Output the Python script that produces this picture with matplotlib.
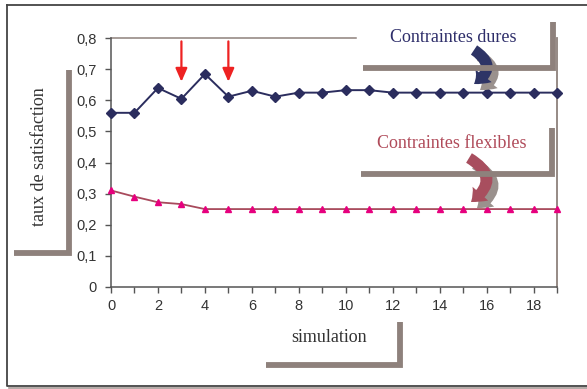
import matplotlib
matplotlib.use("Agg")
import matplotlib.pyplot as plt
from matplotlib.lines import Line2D
from matplotlib.patches import FancyArrowPatch

# Satisfaction rates per simulation step
simulation = list(range(20))
dures = [0.56, 0.56, 0.64, 0.605, 0.685, 0.612, 0.631, 0.612, 0.625, 0.625,
         0.633, 0.633, 0.625, 0.625, 0.625, 0.625, 0.625, 0.625, 0.625, 0.625]
flexibles = [0.31, 0.29, 0.272, 0.266, 0.25, 0.25, 0.25, 0.25, 0.25, 0.25,
             0.25, 0.25, 0.25, 0.25, 0.25, 0.25, 0.25, 0.25, 0.25, 0.25]
x_ticks = list(range(0, 20, 2))
y_ticks = [0, 0.1, 0.2, 0.3, 0.4, 0.5, 0.6, 0.7, 0.8]
y_ticklabels = ["0", "0,1", "0,2", "0,3", "0,4", "0,5", "0,6", "0,7", "0,8"]
marked_steps = [3, 5]

W, H = 587, 389
fig = plt.figure(figsize=(W / 100, H / 100), dpi=100)
fig.patch.set_facecolor("white")

def px(x, y):
    """Pixel position (from top-left) to figure fraction."""
    return x / W, 1 - y / H

SERIF = "Liberation Serif"
SANS = "Liberation Sans"
BAR = "#8e817c"

# Outer frame with a faint shadow
for (xs, ys, c, lw) in [
    ([7, 7, 587], [5, 386, 386], "#444444", 1.3),
    ([9, 587], [388, 388], "#a89c98", 1.2),
    ([7, 587], [5, 5], "#444444", 1.3),
]:
    fx = [px(a, 0)[0] for a in xs]
    fy = [px(0, b)[1] for b in ys]
    fig.add_artist(Line2D(fx, fy, color=c, lw=lw, transform=fig.transFigure))

ax = fig.add_axes([111 / W, 1 - 286.7 / H, (557 - 111) / W, (286.7 - 38.3) / H])
ax.set_xlim(0, 19)
ax.set_ylim(0, 0.8)

ax.plot(simulation, dures, color="#2b2d5e", lw=1.4, marker="D", ms=5.5,
        mfc="#2b2d5e", mec="#2b2d5e", clip_on=False, zorder=4)
ax.plot(simulation, flexibles, color="#a84a5c", lw=1.3, marker="^", ms=4.5,
        mfc="#e6007e", mec="#e6007e", clip_on=False, zorder=4)

ax.set_xticks(simulation)
ax.set_xticklabels([str(v) if v in x_ticks else "" for v in simulation])
ax.set_yticks(y_ticks)
ax.set_yticklabels(y_ticklabels)
ax.tick_params(axis="both", direction="out", length=4, width=1, color="#555555",
               labelcolor="#333333", labelsize=10.5)
ax.tick_params(axis="y", pad=6)
ax.tick_params(axis="x", pad=5)
for lab in ax.get_xticklabels() + ax.get_yticklabels():
    lab.set_fontfamily(SANS)

for side in ["top", "right"]:
    ax.spines[side].set_visible(False)
for side in ["left", "bottom"]:
    ax.spines[side].set_color("#555555")
    ax.spines[side].set_linewidth(1.1)

# Partial top rule and right rule
ax.plot([0, 10.45], [0.8, 0.8], color=BAR, lw=1.1, clip_on=False, zorder=2)
ax.plot([19, 19], [0, 0.8], color=BAR, lw=1.3, clip_on=False, zorder=2)

# Red arrows marking the steps of interest
for s in marked_steps:
    ax.annotate("", xy=(s, 0.66), xytext=(s, 0.79),
                arrowprops=dict(arrowstyle="-|>,head_length=0.8,head_width=0.35",
                                color="#ee2222", lw=1.6, shrinkA=0, shrinkB=0))

# Decorative L-shaped bars
def lbar(points):
    fx = [px(a, b)[0] for a, b in points]
    fy = [px(a, b)[1] for a, b in points]
    fig.add_artist(Line2D(fx, fy, color=BAR, lw=4.2, solid_joinstyle="miter",
                          solid_capstyle="butt", transform=fig.transFigure))

lbar([(363, 68), (553, 68), (553, 22)])
lbar([(361, 174), (552, 174), (552, 128)])
lbar([(14, 252.5), (68.5, 252.5), (68.5, 70)])
lbar([(266, 364.5), (400, 364.5), (400, 322)])

# Labels
fig.text(*px(453, 38), "Contraintes dures", family=SERIF, size=13,
         color="#2e2e6a", ha="center", va="center")
fig.text(*px(452, 144), "Contraintes flexibles", family=SERIF, size=13,
         color="#b04b5a", ha="center", va="center")
fig.text(*px(40, 157), "taux de satisfaction", family=SERIF, size=13,
         color="#333333", ha="center", va="center", rotation=90)
fig.text(*px(329, 337), "simulation", family=SERIF, size=13,
         color="#333333", ha="center", va="center")

# Curved arrows with shadows
STYLE = "simple,head_length=9,head_width=15,tail_width=8"

def curved(start, end, color, rad):
    sh = FancyArrowPatch(px(start[0] + 6, start[1] + 6), px(end[0] + 6, end[1] + 6),
                         transform=fig.transFigure, connectionstyle=f"arc3,rad={rad}",
                         arrowstyle=STYLE, color="#9a918d", lw=0,
                         shrinkA=0, shrinkB=0)
    ar = FancyArrowPatch(px(*start), px(*end), transform=fig.transFigure,
                         connectionstyle=f"arc3,rad={rad}",
                         arrowstyle=STYLE, color=color, lw=0,
                         shrinkA=0, shrinkB=0)
    fig.add_artist(sh)
    fig.add_artist(ar)

curved((474, 50), (474, 84), "#2e3466", -0.75)
curved((469, 158), (471, 202), "#a84e5e", -0.75)

fig.savefig("out.png", dpi=100, facecolor="white")
